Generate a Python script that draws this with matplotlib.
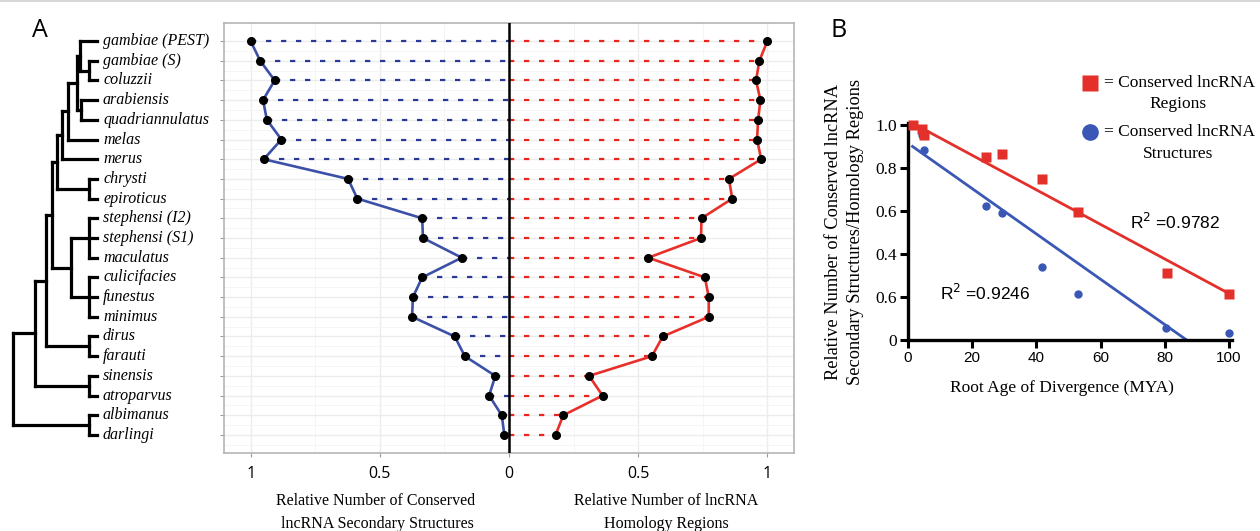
import matplotlib
matplotlib.use("Agg")
import matplotlib.pyplot as plt
import numpy as np
from matplotlib.lines import Line2D

plt.rcParams['lines.scale_dashes'] = False
plt.rcParams['font.family'] = ['Liberation Serif', 'DejaVu Serif']

W, H = 1260, 531

# ---------------- Data ----------------
species = ["gambiae (PEST)", "gambiae (S)", "coluzzii", "arabiensis", "quadriannulatus",
           "melas", "merus", "chrysti", "epiroticus", "stephensi (I2)", "stephensi (S1)",
           "maculatus", "culicifacies", "funestus", "minimus", "dirus", "farauti",
           "sinensis", "atroparvus", "albimanus", "darlingi"]
structures = [1.0, 0.963, 0.907, 0.952, 0.937, 0.881, 0.949, 0.623, 0.587, 0.336, 0.333,
              0.183, 0.336, 0.372, 0.375, 0.210, 0.171, 0.053, 0.077, 0.028, 0.018]
regions = [1.0, 0.969, 0.956, 0.973, 0.964, 0.960, 0.976, 0.851, 0.864, 0.745, 0.743,
           0.539, 0.758, 0.773, 0.773, 0.595, 0.553, 0.310, 0.362, 0.210, 0.180]
a_tick_vals = [-1, -0.5, 0, 0.5, 1]
a_tick_labels = ["1", "0.5", "0", "0.5", "1"]

# dendrogram: (node x in px, children); leaves are species indices
n1 = (89, [1, 2]); n2 = (80, [0, n1]); n3 = (81, [3, 4]); n4 = (77, [n2, n3])
n5 = (68, [n4, 5]); n6 = (62, [n5, 6]); n7 = (89, [7, 8]); n8 = (57, [n6, n7])
n9 = (89, [9, 10, 11]); n10 = (89, [12, 13, 14]); n11 = (71, [n9, n10])
n12 = (52, [n8, n11]); n13 = (89, [15, 16]); n14 = (46, [n12, n13])
n15 = (89, [17, 18]); n16 = (35, [n14, n15]); n17 = (89, [19, 20])
tree = (13, [n16, n17])
tip_x = 97

red_age = [1.6, 4.5, 5.0, 24.2, 29.4, 41.8, 53.1, 80.6, 100.0]
red_val = [1.0, 0.98, 0.953, 0.853, 0.864, 0.747, 0.597, 0.313, 0.214]
blue_age = [4.3, 5.0, 24.3, 29.4, 41.6, 53.1, 80.4, 100.0]
blue_val = [0.953, 0.884, 0.625, 0.589, 0.338, 0.213, 0.054, 0.031]
red_fit_x = [3.7, 100.0]
red_fit_y = [0.99, 0.216]
blue_fit_x = [1.4, 86.8]
blue_fit_y = [0.90, 0.0]
b_xticks = [0, 20, 40, 60, 80, 100]
b_yticks = [0, 0.2, 0.4, 0.6, 0.8, 1.0]
b_ytick_labels = ["0", "0.6", "0.4", "0.6", "0.8", "1.0"]

BLUE_LINE = "#3d50a8"
BLUE_DASH = "#2a3898"
RED_LINE = "#e8302a"
RED_DASH = "#e8261e"
B_RED = "#e3302a"
B_BLUE = "#3a57b5"


def add_ax(x0, y0, x1, y1):
    return fig.add_axes([x0 / W, 1 - y1 / H, (x1 - x0) / W, (y1 - y0) / H])


def fpos(x, y):
    return x / W, 1 - y / H


fig = plt.figure(figsize=(W / 100, H / 100), dpi=100)
fig.patch.set_facecolor("white")

# top gray border
fig.add_artist(Line2D([0, 1], [1 - 1 / H, 1 - 1 / H], transform=fig.transFigure,
                      color="#cfcfcf", lw=1.2))

# ---------------- Panel A main ----------------
ax = add_ax(224, 22.7, 793.5, 453.3)
rows = np.arange(len(species))
ax.set_xlim(-1.103, 1.101)
ax.set_ylim(20.93, -0.93)
ax.set_xticks(a_tick_vals)
ax.set_xticklabels(a_tick_labels, family="Open Sans", fontsize=11.5)
ax.set_xticks([-0.75, -0.25, 0.25, 0.75], minor=True)
ax.set_yticks(rows)
ax.set_yticklabels([])
ax.set_yticks(rows + 0.5, minor=True)
ax.grid(which="major", color="#ececec", lw=1.0)
ax.grid(which="minor", color="#f5f5f5", lw=0.7)
ax.set_axisbelow(True)
for s in ax.spines.values():
    s.set_color("#b5b5b5")
    s.set_linewidth(1.2)
ax.tick_params(which="major", length=3, color="#9a9a9a", pad=6)
ax.tick_params(which="minor", length=0)

neg_struct = [-v for v in structures]
for r, v in zip(rows, neg_struct):
    ax.plot([v, 0], [r, r], color=BLUE_DASH, lw=1.6, dashes=(3.8, 7.0), zorder=2)
for r, v in zip(rows, regions):
    ax.plot([0, v], [r, r], color=RED_DASH, lw=1.6, dashes=(3.8, 7.0), zorder=2)
ax.axvline(0, color="black", lw=1.8, zorder=3)
ax.plot(neg_struct, rows, color=BLUE_LINE, lw=1.9, zorder=4)
ax.plot(regions, rows, color=RED_LINE, lw=1.9, zorder=4)
ax.plot(neg_struct, rows, "o", color="black", ms=5.5, zorder=5)
ax.plot(regions, rows, "o", color="black", ms=5.5, zorder=5)

# ---------------- Dendrogram ----------------
dax = add_ax(0, 22.7, 224, 453.3)
dax.set_xlim(0, 224)
dax.set_ylim(20.93, -0.93)
dax.axis("off")


def draw(node):
    if isinstance(node, int):
        return tip_x, node
    x, children = node
    ys = []
    for c in children:
        cx, cy = draw(c)
        dax.plot([x, cx], [cy, cy], color="black", lw=2.3, solid_capstyle="projecting")
        ys.append(cy)
    dax.plot([x, x], [min(ys), max(ys)], color="black", lw=2.3, solid_capstyle="projecting")
    return x, (min(ys) + max(ys)) / 2


draw(tree)
for r, name in zip(rows, species):
    dax.text(103, r, name, ha="left", va="center", style="italic", fontsize=11.5,
             family="Liberation Serif")

fig.text(*fpos(40, 31), "A", fontsize=18, family="Open Sans", ha="center", va="center")
fig.text(*fpos(376, 501), "Relative Number of Conserved", fontsize=11.5, ha="center", va="center")
fig.text(*fpos(377, 524), "lncRNA Secondary Structures", fontsize=11.5, ha="center", va="center")
fig.text(*fpos(666, 501), "Relative Number of lncRNA", fontsize=11.5, ha="center", va="center")
fig.text(*fpos(666, 524), "Homology Regions", fontsize=11.5, ha="center", va="center")

# ---------------- Panel B ----------------
bx = add_ax(908, 122.8, 1232.2, 340)
bx.set_xlim(0, 101)
bx.set_ylim(0, 1.01)
bx.spines["top"].set_visible(False)
bx.spines["right"].set_visible(False)
for s in ("left", "bottom"):
    bx.spines[s].set_linewidth(2.4)
    bx.spines[s].set_color("black")
bx.set_xticks(b_xticks)
bx.set_xticklabels([str(v) for v in b_xticks], family="Liberation Sans", fontsize=11)
bx.set_yticks(b_yticks)
bx.set_yticklabels(b_ytick_labels, family="Liberation Serif", fontsize=12.5)
bx.tick_params(direction="out", length=6, width=2.2, pad=2)
bx.patch.set_alpha(0)

bx.plot(red_fit_x, red_fit_y, color=B_RED, lw=2.0, clip_on=False, zorder=2)
bx.plot(blue_fit_x, blue_fit_y, color=B_BLUE, lw=2.0, clip_on=False, zorder=2)
bx.plot(blue_age, blue_val, "o", color=B_BLUE, ms=6, mec="none", clip_on=False, zorder=3)
bx.plot(red_age, red_val, "s", color=B_RED, ms=6.5, mec="none", clip_on=False, zorder=4)

fig.text(*fpos(1130, 222), r"R$^2$ =0.9782", family="Liberation Sans", fontsize=12.5,
         ha="left", va="center", math_fontfamily="dejavusans")
fig.text(*fpos(940, 293), r"R$^2$ =0.9246", family="Liberation Sans", fontsize=12.5,
         ha="left", va="center", math_fontfamily="dejavusans")

fig.text(*fpos(834, 232), "Relative Number of Conserved lncRNA", rotation=90,
         fontsize=13.2, ha="center", va="center")
fig.text(*fpos(855, 232), "Secondary Structures/Homology Regions", rotation=90,
         fontsize=13.2, ha="center", va="center")
fig.text(*fpos(1062, 388), "Root Age of Divergence (MYA)", fontsize=12.5,
         ha="center", va="center")

# legend
fig.add_artist(Line2D([1090 / W], [1 - 83 / H], marker="s", color=B_RED, ms=11,
                      mec="none", transform=fig.transFigure, linestyle="none"))
fig.add_artist(Line2D([1090 / W], [1 - 132 / H], marker="o", color=B_BLUE, ms=12,
                      mec="none", transform=fig.transFigure, linestyle="none"))
fig.text(*fpos(1104, 83), "= Conserved lncRNA", fontsize=12.5, ha="left", va="center")
fig.text(*fpos(1178, 104), "Regions", fontsize=12.5, ha="center", va="center")
fig.text(*fpos(1104, 132), "= Conserved lncRNA", fontsize=12.5, ha="left", va="center")
fig.text(*fpos(1178, 154), "Structures", fontsize=12.5, ha="center", va="center")

fig.text(*fpos(839, 31), "B", fontsize=18, family="Open Sans", ha="center", va="center")

fig.savefig("out.png", dpi=100, facecolor="white")
